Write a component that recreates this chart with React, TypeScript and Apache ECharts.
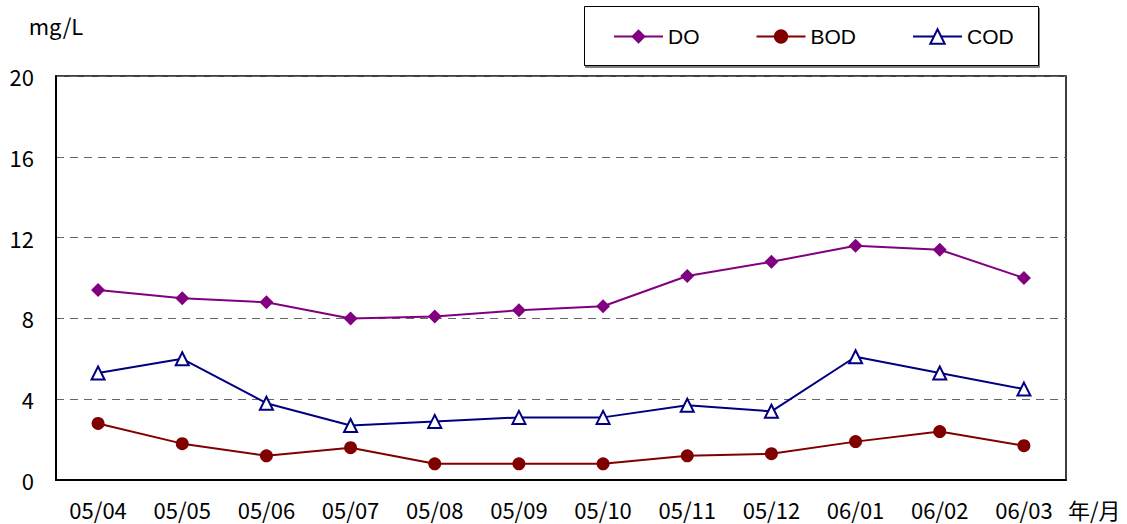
import React, { useEffect, useRef } from "react";
import * as echarts from "echarts";

const categories = ["05/04", "05/05", "05/06", "05/07", "05/08", "05/09", "05/10", "05/11", "05/12", "06/01", "06/02", "06/03"];
const doValues = [9.4, 9.0, 8.8, 8.0, 8.1, 8.4, 8.6, 10.1, 10.8, 11.6, 11.4, 10.0];
const bodValues = [2.8, 1.8, 1.2, 1.6, 0.8, 0.8, 0.8, 1.2, 1.3, 1.9, 2.4, 1.7];
const codValues = [5.3, 6.0, 3.8, 2.7, 2.9, 3.1, 3.1, 3.7, 3.4, 6.1, 5.3, 4.5];
const yTicks = { min: 0, max: 20, interval: 4 };

const FONT = "'Noto Sans CJK JP', sans-serif";

export default function App() {
  const ref = useRef<HTMLDivElement>(null);
  useEffect(() => {
    const chart = echarts.init(ref.current!, null, { renderer: "svg" });
    chart.setOption({
      animation: false,
      backgroundColor: "#fff",
      grid: { left: 56, right: 61, top: 76, bottom: 44, show: true, borderColor: "#000", borderWidth: 1.5, backgroundColor: "transparent" },
      graphic: [
        {
          type: "rect",
          shape: { x: 584.5, y: 6.5, width: 454, height: 59 },
          style: { fill: "#fff", stroke: "#000", lineWidth: 1, shadowColor: "rgba(0,0,0,0.5)", shadowOffsetX: 1, shadowOffsetY: 2, shadowBlur: 1 },
          z: 0,
        },
      ],
      legend: {
        left: 608,
        top: 21,
        itemWidth: 49,
        itemHeight: 18,
        itemGap: 56,
        textStyle: { fontFamily: "'Liberation Sans', Arial, sans-serif", fontSize: 21, color: "#000" },
        data: ["DO", "BOD", "COD"],
        z: 5,
      },
      xAxis: {
        type: "category",
        data: categories,
        boundaryGap: true,
        axisLine: { lineStyle: { color: "#000", width: 2 } },
        axisTick: { inside: true, length: 6, lineStyle: { color: "#000", width: 1 } },
        axisLabel: { fontFamily: FONT, fontSize: 22, color: "#000", margin: 18 },
        name: "年/月",
        nameLocation: "end",
        nameGap: 2,
        nameTextStyle: { fontFamily: FONT, fontSize: 22, color: "#000", verticalAlign: "top", padding: [18, 0, 0, 0] },
      },
      yAxis: {
        type: "value",
        min: yTicks.min,
        max: yTicks.max,
        interval: yTicks.interval,
        axisLine: { show: true, lineStyle: { color: "#000", width: 2 } },
        axisTick: { show: false },
        axisLabel: { fontFamily: FONT, fontSize: 22, color: "#000", margin: 22 },
        splitLine: { show: true, lineStyle: { color: "#666", type: [8, 6], width: 1 } },
        name: "mg/L",
        nameLocation: "end",
        nameGap: 40,
        nameTextStyle: { fontFamily: FONT, fontSize: 22, color: "#000" },
      },
      series: [
        {
          name: "DO",
          type: "line",
          data: doValues,
          symbol: "diamond",
          symbolSize: 14,
          lineStyle: { color: "#800080", width: 2 },
          itemStyle: { color: "#800080" },
        },
        {
          name: "BOD",
          type: "line",
          data: bodValues,
          symbol: "circle",
          symbolSize: 13,
          lineStyle: { color: "#800000", width: 2 },
          itemStyle: { color: "#800000" },
        },
        {
          name: "COD",
          type: "line",
          data: codValues,
          symbol: "triangle",
          symbolSize: 13,
          lineStyle: { color: "#000080", width: 2 },
          itemStyle: { color: "#fff", borderColor: "#000080", borderWidth: 2 },
        },
      ],
    });
    return () => chart.dispose();
  }, []);
  return <div ref={ref} style={{ width: 1127, height: 524, position: "absolute", left: 0, top: 0 }} />;
}
